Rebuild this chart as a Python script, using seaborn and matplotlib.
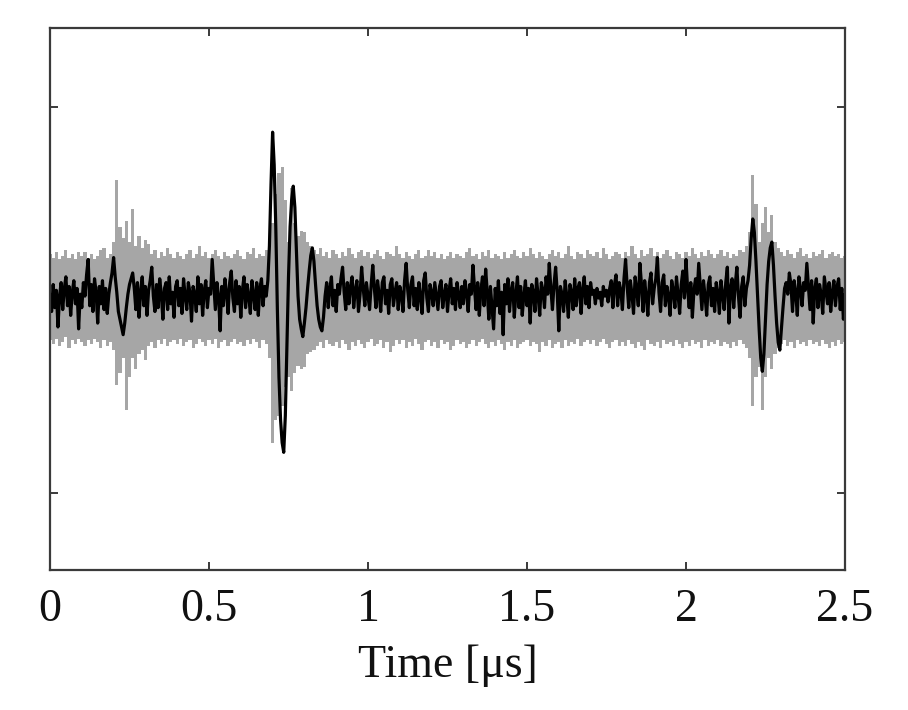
import numpy as np
import seaborn as sns
import matplotlib.pyplot as plt
from matplotlib.ticker import FuncFormatter

# black trace, arbitrary units (tick marks at -100, 0, 100), sampled every 0.005 us
black = [
    3, -6, 8, -4, 5, -14, 2, 9, -5, 6, 12, -3, 7, -8, 4, 10, -2, 6, -15, 3,
    -4, 9, 2, 13, 21, -3, 8, -6, 11, 4, -12, 7, -2, 10, -5, 6, -7, 3, 9, 14,
    22, 12, 4, -6, -10, -14, -18, -12, -4, 3, 8, 11, 14, 6, -5, 9, -9, 4, 12, -3,
    7, -8, 5, 10, 17, 2, -6, 8, -4, 11, 3, -10, 6, 9, -5, 12, -2, 4, -9, 7,
    10, -3, 6, -7, 11, 2, -5, 9, 4, -11, 7, 3, -6, 12, -2, 8, -8, 5, 10, -4,
    6, 3, 21, 8, -5, 9, 2, -16, 7, -3, 11, 4, -7, 9, 15, 1, -6, 10, -2, 7,
    -9, 5, 12, -4, 8, 2, -7, 10, 3, -5, 9, -8, 6, 11, -3, 7, 2, 10, 28, 60,
    87, 70, 38, -5, -40, -62, -74, -79, -60, -25, 12, 38, 52, 59, 48, 25, 2, -10, -15, -19,
    -12, -4, 6, 15, 23, 27, 20, 8, -3, -10, -14, -16, -9, 2, 9, -4, 6, 12, -3, 5,
    -6, 8, 3, 11, 17, 4, -5, 9, -2, 7, 12, -4, 5, 10, -6, 3, 17, 6, -3, 9,
    2, -5, 8, 18, 6, -4, 10, 3, -6, 9, 12, -2, 5, -7, 8, 11, -3, 4, 9, -5,
    7, 3, -6, 10, 19, 5, -4, 8, 12, -3, 6, -5, 9, 2, -7, 10, 14, 1, -6, 8,
    4, -3, 9, 2, -5, 7, 10, -4, 3, 8, -6, 5, 11, -2, 6, -5, 9, 3, -4, 7,
    -2, 10, 4, -6, 8, 3, 18, 6, -5, 9, -8, 5, 12, -3, 16, 4, -10, 7, -4, -15,
    6, -3, 10, -7, 4, -18, 8, -2, 11, -6, 5, 9, -9, 3, 12, -4, 7, -8, 2, 10,
    -3, 6, -12, 8, 4, -6, 11, 2, -8, 9, 5, -4, 12, 3, 19, 6, -5, 8, 17, 4,
    -16, 7, 3, -6, 10, 2, -9, 8, 4, -5, 11, -3, 6, 9, -7, 5, 12, -2, 7, -4,
    9, 3, 5, -2, 6, 1, 4, -3, 7, 2, 5, -1, 6, 10, -4, 8, 13, -3, 9, 5,
    -5, 11, 21, 7, -4, 10, 3, -7, 12, 5, -3, 19, 8, -6, 10, 2, -8, 9, 14, -2,
    6, 11, 22, 4, -6, 9, 13, -3, 7, 2, -8, 10, 5, -4, 12, 3, -7, 8, 15, 1,
    21, 6, -4, 9, -9, 5, 11, 3, 19, 7, -5, 10, 2, -8, 8, 12, -3, 6, -6, 9,
    4, -7, 10, 3, -5, 9, 17, -12, 6, 11, -4, 8, 17, 2, -9, 7, 12, -3, 6, 10,
    18, 32, 42, 35, 20, 2, -15, -30, -37, -28, -10, 8, 20, 27, 30, 18, 2, -12, -22, -26,
    -15, -4, 6, 9, 3, 14, 8, -6, 10, 4, -8, 12, 6, -3, 9, 5, 19, 7, -5, 10,
    -12, 6, 11, -4, 8, 3, -7, 12, 5, -2, 9, -6, 4, 10, -3, 7, 11, -5, 6, -10,
    3,
]

# grey band (upper / lower edge), sampled every 0.01 us
grey_hi = [
    24, 22, 25, 21, 23, 26, 22, 24, 21, 25,
    23, 25, 22, 24, 21, 23, 26, 27, 22, 24,
    30, 62, 38, 32, 41, 30, 47, 28, 33, 27,
    31, 29, 24, 26, 22, 25, 23, 27, 24, 22,
    25, 23, 21, 24, 26, 22, 24, 28, 23, 25,
    22, 24, 26, 23, 21, 25, 23, 22, 24, 26,
    23, 21, 25, 24, 27, 22, 24, 23, 26, 30,
    40, 55, 66, 69, 52, 30, 58, 40, 33, 36,
    35, 30, 28, 26, 24, 27, 23, 25, 22, 26,
    24, 22, 25, 23, 27, 24, 22, 25, 26, 23,
    25, 22, 24, 26, 23, 21, 25, 24, 23, 28,
    24, 22, 25, 23, 21, 24, 26, 22, 23, 26,
    23, 25, 22, 24, 21, 23, 25, 22, 24, 23,
    22, 25, 27, 23, 24, 21, 25, 23, 26, 22,
    24, 23, 21, 25, 22, 24, 26, 23, 22, 25,
    23, 27, 24, 22, 25, 23, 21, 24, 26, 23,
    25, 22, 24, 28, 23, 21, 25, 24, 22, 26,
    24, 23, 25, 22, 27, 24, 21, 23, 25, 24,
    22, 25, 23, 28, 24, 22, 26, 23, 24, 27,
    23, 25, 22, 24, 26, 23, 21, 25, 24, 22,
    25, 23, 27, 24, 22, 25, 23, 26, 24, 22,
    24, 26, 23, 25, 22, 24, 23, 26, 25, 28,
    35, 65, 50, 30, 40, 48, 35, 44, 30, 27,
    25, 23, 26, 24, 22, 25, 27, 23, 24, 22,
    25, 23, 24, 26, 22, 24, 25, 23, 24, 22,
    23,
]
grey_lo = [
    -21, -23, -20, -24, -22, -19, -25, -21, -23, -20,
    -22, -24, -21, -23, -20, -22, -25, -21, -24, -22,
    -26, -44, -38, -30, -57, -40, -30, -36, -28, -26,
    -31, -24, -22, -25, -21, -23, -20, -24, -22, -21,
    -23, -20, -24, -22, -21, -25, -23, -20, -22, -24,
    -21, -23, -20, -25, -22, -21, -24, -22, -20, -23,
    -22, -24, -21, -23, -20, -22, -25, -21, -23, -30,
    -74, -62, -60, -55, -45, -40, -47, -38, -34, -36,
    -35, -28, -27, -26, -24, -22, -25, -21, -23, -24,
    -22, -25, -21, -23, -26, -22, -24, -21, -23, -25,
    -22, -20, -24, -23, -21, -25, -22, -27, -24, -21,
    -23, -21, -25, -22, -24, -20, -23, -26, -22, -21,
    -24, -22, -25, -21, -23, -22, -26, -24, -21, -23,
    -22, -25, -23, -21, -24, -22, -20, -23, -25, -22,
    -24, -21, -23, -26, -22, -24, -21, -25, -23, -22,
    -21, -24, -22, -23, -27, -22, -24, -21, -25, -23,
    -22, -25, -21, -24, -22, -23, -20, -24, -22, -21,
    -23, -21, -24, -22, -20, -23, -25, -22, -21, -24,
    -22, -24, -21, -23, -25, -22, -24, -26, -21, -23,
    -24, -22, -25, -21, -23, -22, -24, -21, -23, -25,
    -22, -24, -21, -23, -22, -25, -21, -24, -22, -23,
    -21, -24, -22, -23, -25, -22, -24, -21, -23, -25,
    -30, -55, -40, -35, -57, -40, -30, -36, -28, -25,
    -23, -21, -24, -22, -25, -21, -23, -22, -24, -21,
    -23, -22, -24, -21, -23, -25, -22, -24, -21, -23,
    -22,
]

x_ticks = [0, 0.5, 1, 1.5, 2, 2.5]
y_ticks = [-100, 0, 100]

t_black = np.linspace(0, 2.5, len(black))
t_grey = np.linspace(0, 2.5, len(grey_hi))

sns.set_theme(style="white")
plt.rcParams['font.family'] = ['Liberation Serif', 'DejaVu Serif']

fig = plt.figure(figsize=(9.08, 7.10), dpi=100)
ax = fig.add_axes([50/908, 1 - 570/710, 795/908, 542/710])

ax.fill_between(t_grey, grey_lo, grey_hi, step='mid', color='#a6a6a6', lw=0)
sns.lineplot(x=t_black, y=black, color='black', lw=2.3, ax=ax)

ax.set_xlim(0, 2.5)
ax.set_ylim(-140, 141)
ax.set_xticks(x_ticks)
ax.set_yticks(y_ticks)
ax.xaxis.set_major_formatter(FuncFormatter(lambda v, p: f"{v:g}"))
ax.set_yticklabels([])
ax.tick_params(direction='in', length=6, width=1.4, color='#3a3a3a',
               left=True, bottom=True, top=True, right=True,
               labelsize=33, pad=13, labelcolor='#111111')
for s in ax.spines.values():
    s.set_color('#3a3a3a')
    s.set_linewidth(1.6)
ax.set_xlabel("Time [μs]", fontsize=33, labelpad=10, color='#111111')

fig.savefig("out.png", dpi=100)
